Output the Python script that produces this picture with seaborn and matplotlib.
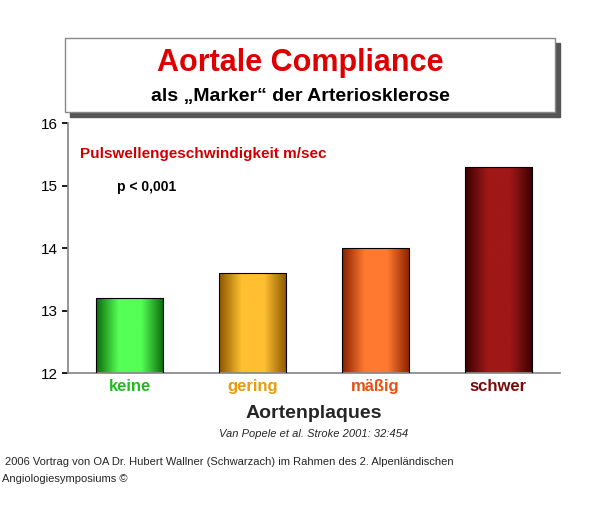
import matplotlib
matplotlib.use("Agg")
import matplotlib.pyplot as plt
import seaborn as sns
import numpy as np
import pandas as pd
from matplotlib.patches import Rectangle
from matplotlib.colors import LinearSegmentedColormap

categories = ["keine", "gering", "mäßig", "schwer"]
values = [13.2, 13.6, 14.0, 15.3]
label_colors = ["#22bb22", "#e89a10", "#e85010", "#7a0a0a"]
bar_grad = [("#0a6a0a", "#55ff55"), ("#8a5500", "#ffc030"),
            ("#8a2000", "#ff7a30"), ("#3a0000", "#a01818")]
yticks = [12, 13, 14, 15, 16]

sns.set_theme(style="white")
plt.rcParams['font.family'] = ['Liberation Sans', 'DejaVu Sans']

fig = plt.figure(figsize=(6.0, 5.11), dpi=100)
ax = fig.add_axes([68/600, 1-373/511, 492/600, 250/511])
df = pd.DataFrame({"cat": categories, "val": values})
sns.barplot(data=df, x="cat", y="val", ax=ax, width=0.55, color="white",
            edgecolor="black", linewidth=0.8, zorder=3)
ylo, yhi = 12, 16
for p, (c0, c1) in zip(ax.patches, bar_grad):
    p.set_facecolor("none")
    x0, top = p.get_x(), p.get_y() + p.get_height()
    w = p.get_width()
    cmap = LinearSegmentedColormap.from_list("g", [c0, c1, c1, c0])
    grad = np.linspace(0, 1, 256).reshape(1, -1)
    im = ax.imshow(grad, cmap=cmap, extent=[x0, x0 + w, ylo, top],
                   aspect="auto", zorder=2)
    im.set_clip_path(p)
ax.set_ylim(ylo, yhi)
ax.set_yticks(yticks)
ax.set_xlim(-0.5, 3.5)
ax.set_xlabel("")
ax.set_ylabel("")
for s in ["top", "right"]:
    ax.spines[s].set_visible(False)
for s in ["left", "bottom"]:
    ax.spines[s].set_color("#888888")
ax.tick_params(axis="y", labelsize=11, length=4, left=True, colors="black")
ax.tick_params(axis="x", length=0, pad=4)
for lbl, col in zip(ax.get_xticklabels(), label_colors):
    lbl.set_color(col)
    lbl.set_fontweight("bold")
    lbl.set_fontsize(12)

ax.text(0.025, 0.86, "Pulswellengeschwindigkeit m/sec", transform=ax.transAxes,
        color="#cc0000", fontsize=11, fontweight="bold")
ax.text(0.1, 0.73, "p < 0,001", transform=ax.transAxes, fontsize=10,
        fontweight="bold", color="black")

fig.patches.append(Rectangle((70/600, 1-117/511), 490/600, 74/511,
                             transform=fig.transFigure, color="#555555", zorder=0))
fig.patches.append(Rectangle((65/600, 1-112/511), 490/600, 74/511,
                             transform=fig.transFigure, facecolor="white",
                             edgecolor="#888888", lw=1, zorder=1))
fig.text(0.5, 1-63/511, "Aortale Compliance", ha="center", va="center",
         color="#dd0000", fontsize=22, fontweight="bold")
fig.text(0.5, 1-96/511, "als \u201eMarker\u201c der Arteriosklerose", ha="center",
         va="center", color="black", fontsize=14, fontweight="bold")

fig.text(314/600, 1-413/511, "Aortenplaques", ha="center", va="center",
         fontsize=14, fontweight="bold")
fig.text(314/600, 1-434/511, "Van Popele et al. Stroke 2001: 32:454", ha="center",
         va="center", fontsize=8, style="italic")
fig.text(5/600, 1-462/511, "2006 Vortrag von OA Dr. Hubert Wallner (Schwarzach) im Rahmen des 2. Alpenländischen",
         fontsize=8, va="center")
fig.text(2/600, 1-479/511, "Angiologiesymposiums ©", fontsize=8, va="center")

fig.savefig("out.png", dpi=100)
